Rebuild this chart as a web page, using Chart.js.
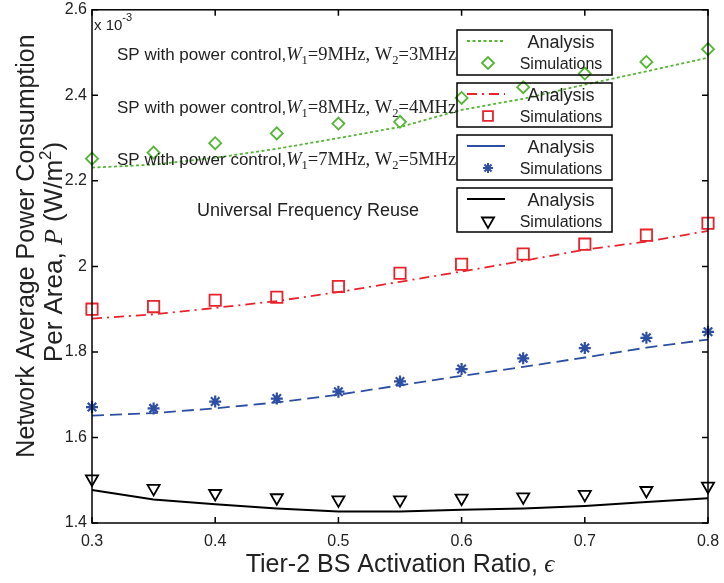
<!DOCTYPE html>
<html>
<head>
<meta charset="utf-8">
<script src="https://cdn.jsdelivr.net/npm/chart.js@4.4.0/dist/chart.umd.min.js"></script>
<style>
  html, body { margin: 0; padding: 0; background: #fff; }
</style>
</head>
<body>
<canvas id="chart" width="724" height="583"></canvas>
<script>
"use strict"

// x values: tier-2 BS activation ratio
const ratios = [0.3, 0.35, 0.4, 0.45, 0.5, 0.55, 0.6, 0.65, 0.7, 0.75, 0.8];

// power per area, in units of 1e-3 W/m^2
const analysis9 = [2.231, 2.238, 2.254, 2.275, 2.300, 2.326, 2.366, 2.392, 2.425, 2.456, 2.488];
const sims9     = [2.252, 2.266, 2.288, 2.311, 2.334, 2.338, 2.394, 2.419, 2.451, 2.478, 2.508];
const analysis8 = [1.878, 1.888, 1.903, 1.919, 1.940, 1.964, 1.988, 2.013, 2.039, 2.058, 2.083];
const sims8     = [1.900, 1.906, 1.921, 1.928, 1.953, 1.984, 2.005, 2.029, 2.052, 2.073, 2.101];
const analysis7 = [1.651, 1.657, 1.668, 1.682, 1.700, 1.722, 1.744, 1.765, 1.787, 1.810, 1.829];
const sims7     = [1.671, 1.668, 1.684, 1.691, 1.707, 1.731, 1.760, 1.785, 1.809, 1.833, 1.847];
const analysisUFR = [1.477, 1.455, 1.444, 1.434, 1.427, 1.427, 1.431, 1.434, 1.440, 1.449, 1.458];
const simsUFR     = [1.503, 1.481, 1.469, 1.459, 1.454, 1.454, 1.458, 1.461, 1.467, 1.476, 1.486];

const yTicks = [1.4, 1.6, 1.8, 2.0, 2.2, 2.4, 2.6];
const xTicks = [0.3, 0.4, 0.5, 0.6, 0.7, 0.8];

const GREEN = '#55b535';
const RED = '#e8232b';
const BLUE = '#2d4fa3';
const BLACK = '#000000';

const SANS = '"Liberation Sans", Arial, sans-serif';
const SERIF = '"Liberation Serif", "Times New Roman", serif';

function pts(ys) {
    return ratios.map((x, i) => ({ x: x, y: ys[i] }));
}

function lineSet(ys, color, dash, width) {
    return {
        data: pts(ys), borderColor: color, borderWidth: width, borderDash: dash,
        pointRadius: 0, fill: false, tension: 0, clip: false
    };
}

function markSet(ys, color, style, radius, rotation, bw) {
    return {
        data: pts(ys), showLine: false, borderColor: color, backgroundColor: 'rgba(0,0,0,0)',
        pointStyle: style, pointRadius: radius, pointBorderWidth: bw || 1.8,
        pointRotation: rotation || 0, clip: false
    };
}

// draw a row of text pieces with different fonts
function drawRuns(ctx, runs, x, y, align) {
    let total = 0;
    runs.forEach(r => {
        ctx.font = r.font;
        r.w = ctx.measureText(r.text).width;
        total += r.w;
    });
    let cx = align === 'center' ? x - total / 2 : (align === 'right' ? x - total : x);
    runs.forEach(r => {
        ctx.font = r.font;
        ctx.fillText(r.text, cx, y + (r.dy || 0));
        cx += r.w;
    });
}

function drawMarker(ctx, style, color, x, y, radius, rotation, bw) {
    ctx.save();
    ctx.strokeStyle = color;
    ctx.fillStyle = 'rgba(0,0,0,0)';
    ctx.lineWidth = bw;
    Chart.helpers.drawPoint(ctx, { pointStyle: style, radius: radius, rotation: rotation || 0, borderWidth: bw }, x, y);
    ctx.restore();
}

const legends = [
    { top: 30, bottom: 75, color: GREEN, dash: [3, 2.5], width: 1.8, style: 'rectRot', r: 6, rot: 0, bw: 1.8 },
    { top: 83, bottom: 127, color: RED, dash: [10, 5, 2, 5], width: 1.8, style: 'rect', r: 7, rot: 0, bw: 1.8 },
    { top: 135, bottom: 180, color: BLUE, dash: [], width: 1.8, style: 'star', r: 5, rot: 0, bw: 2 },
    { top: 188, bottom: 232, color: BLACK, dash: [], width: 2, style: 'triangle', r: 7, rot: 180, bw: 1.8 }
];

const notes = [
    { y: 60, w1: '9', w2: '3' },
    { y: 113, w1: '8', w2: '4' },
    { y: 165, w1: '7', w2: '5' }
];

const decorPlugin = {
    id: 'decor',
    afterDraw(chart) {
        const ctx = chart.ctx;
        const a = chart.chartArea;
        const xs = chart.scales.x;
        const ys = chart.scales.y;
        ctx.save();

        // frame and inward ticks
        ctx.strokeStyle = BLACK;
        ctx.lineWidth = 1.5;
        ctx.setLineDash([]);
        ctx.strokeRect(a.left, a.top, a.right - a.left, a.bottom - a.top);
        const tl = 6;
        ctx.beginPath();
        xTicks.forEach(v => {
            const px = xs.getPixelForValue(v);
            ctx.moveTo(px, a.bottom); ctx.lineTo(px, a.bottom - tl);
            ctx.moveTo(px, a.top); ctx.lineTo(px, a.top + tl);
        });
        yTicks.forEach(v => {
            const py = ys.getPixelForValue(v);
            ctx.moveTo(a.left, py); ctx.lineTo(a.left + tl, py);
            ctx.moveTo(a.right, py); ctx.lineTo(a.right - tl, py);
        });
        ctx.stroke();

        ctx.fillStyle = '#222';
        ctx.textBaseline = 'alphabetic';

        // exponent
        drawRuns(ctx, [
            { text: 'x 10', font: '15px ' + SANS },
            { text: '-3', font: '11px ' + SANS, dy: -9 }
        ], 94, 30, 'left');

        // annotations
        notes.forEach(n => {
            drawRuns(ctx, [
                { text: 'SP with power control,', font: '17px ' + SANS },
                { text: 'W', font: 'italic 18.5px ' + SERIF },
                { text: '1', font: '12.5px ' + SERIF, dy: 4 },
                { text: '=' + n.w1 + 'MHz, W', font: '18.5px ' + SERIF },
                { text: '2', font: '12.5px ' + SERIF, dy: 4 },
                { text: '=' + n.w2 + 'MHz', font: '18.5px ' + SERIF }
            ], 117, n.y, 'left');
        });
        drawRuns(ctx, [{ text: 'Universal Frequency Reuse', font: '18px ' + SANS }], 197, 216, 'left');

        // legend boxes
        legends.forEach(l => {
            ctx.strokeStyle = BLACK;
            ctx.lineWidth = 1.5;
            ctx.setLineDash([]);
            ctx.strokeRect(457, l.top, 155, l.bottom - l.top);
            const r1 = l.top + 11;
            const r2 = l.top + 33;
            ctx.strokeStyle = l.color;
            ctx.lineWidth = l.width;
            ctx.setLineDash(l.dash);
            ctx.beginPath();
            ctx.moveTo(467, r1); ctx.lineTo(505, r1);
            ctx.stroke();
            ctx.setLineDash([]);
            drawMarker(ctx, l.style, l.color, 488, r2, l.r, l.rot, l.bw);
            ctx.fillStyle = '#222';
            drawRuns(ctx, [{ text: 'Analysis', font: '18px ' + SANS }], 561, r1 + 6.5, 'center');
            drawRuns(ctx, [{ text: 'Simulations', font: '16px ' + SANS }], 561, r2 + 6, 'center');
        });

        // axis titles
        ctx.fillStyle = '#222';
        drawRuns(ctx, [
            { text: 'Tier-2 BS Activation Ratio,', font: '25px ' + SANS },
            { text: ' \u03f5', font: 'italic 25px ' + SERIF }
        ], 400, 572, 'center');

        ctx.save();
        ctx.translate(34, 246);
        ctx.rotate(-Math.PI / 2);
        drawRuns(ctx, [{ text: 'Network Average Power Consumption', font: '25px ' + SANS }], 0, 0, 'center');
        ctx.restore();

        ctx.save();
        ctx.translate(62, 252);
        ctx.rotate(-Math.PI / 2);
        drawRuns(ctx, [
            { text: 'Per Area, ', font: '26px ' + SANS },
            { text: 'P', font: 'italic 26px ' + SERIF },
            { text: ' (W/m', font: '26px ' + SANS },
            { text: '2', font: '17px ' + SANS, dy: -11 },
            { text: ')', font: '26px ' + SANS }
        ], 0, 0, 'center');
        ctx.restore();

        ctx.restore();
    }
};

new Chart(document.getElementById('chart'), {
    type: 'line',
    data: {
        datasets: [
            lineSet(analysis9, GREEN, [3, 2.5], 1.8),
            markSet(sims9, GREEN, 'rectRot', 6),
            lineSet(analysis8, RED, [10, 5, 2, 5], 1.8),
            markSet(sims8, RED, 'rect', 8),
            lineSet(analysis7, BLUE, [12, 6], 1.8),
            markSet(sims7, BLUE, 'star', 6, 0, 2.2),
            lineSet(analysisUFR, BLACK, [], 2),
            markSet(simsUFR, BLACK, 'triangle', 7, 180)
        ]
    },
    options: {
        responsive: false,
        animation: false,
        layout: { padding: { top: 8, right: 16, left: 0, bottom: 0 } },
        plugins: { legend: { display: false }, tooltip: { enabled: false } },
        scales: {
            x: {
                type: 'linear', min: 0.3, max: 0.8,
                grid: { display: false, drawTicks: false },
                border: { display: false },
                afterBuildTicks: s => { s.ticks = xTicks.map(v => ({ value: v })); },
                afterFit: s => { s.height = 60; s.paddingLeft = 0; s.paddingRight = 0; },
                ticks: {
                    padding: 9, color: '#222', maxRotation: 0,
                    font: { family: SANS, size: 16 },
                    callback: v => v.toFixed(1)
                }
            },
            y: {
                min: 1.4, max: 2.6,
                grid: { display: false, drawTicks: false },
                border: { display: false },
                afterBuildTicks: s => { s.ticks = yTicks.map(v => ({ value: v })); },
                afterFit: s => { s.width = 92; s.paddingTop = 0; s.paddingBottom = 0; },
                ticks: {
                    padding: 5, color: '#222',
                    font: { family: SANS, size: 16, lineHeight: 1 },
                    callback: v => String(Number(v.toFixed(1)))
                }
            }
        }
    },
    plugins: [decorPlugin]
});
</script>
</body>
</html>
